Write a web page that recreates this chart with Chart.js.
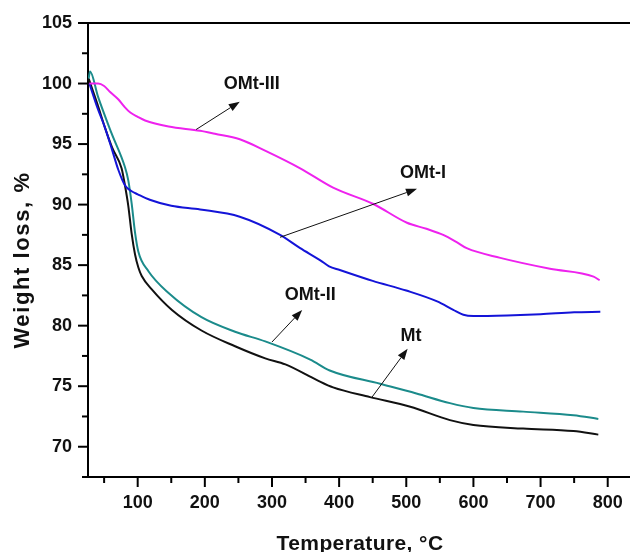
<!DOCTYPE html>
<html>
<head>
<meta charset="utf-8">
<script src="https://cdn.jsdelivr.net/npm/chart.js@4.4.1/dist/chart.umd.min.js"></script>
<style>
  html, body { margin: 0; padding: 0; overflow: hidden; background: #fff; }
  #wrap { width: 660px; height: 552px; }
</style>
</head>
<body>
<div id="wrap"><canvas id="tga" width="660" height="552"></canvas></div>
<script>
// TGA curves (temperature in °C, weight in %)
const mtT = [27, 40, 51, 62, 76, 81, 86, 91, 96, 101, 106, 121, 151, 195, 245, 290, 320, 367, 391, 446, 506, 565, 600, 674, 749, 786];
const mtW = [100.4, 98.3, 96.4, 94.7, 93.0, 91.6, 89.9, 87.6, 85.9, 84.8, 84.1, 83.0, 81.3, 79.6, 78.3, 77.3, 76.8, 75.5, 74.9, 74.1, 73.3, 72.2, 71.8, 71.5, 71.3, 71.0];

const omt2T = [27, 29, 41, 61, 81, 86, 91, 96, 101, 116, 146, 195, 245, 290, 357, 386, 461, 515, 565, 600, 674, 749, 786];
const omt2W = [100.4, 101.0, 98.9, 95.9, 93.1, 92.0, 90.1, 87.7, 86.1, 84.5, 82.7, 80.7, 79.5, 78.7, 77.2, 76.3, 75.2, 74.4, 73.6, 73.2, 72.9, 72.6, 72.3];

const omt1T = [28, 40, 51, 62, 71, 81, 91, 100, 118, 150, 193, 252, 312, 342, 372, 385, 401, 450, 500, 546, 570, 585, 600, 650, 700, 750, 789];
const omt1W = [100.0, 98.0, 96.4, 94.5, 92.9, 91.6, 91.1, 90.85, 90.4, 89.9, 89.6, 89.0, 87.5, 86.4, 85.4, 84.9, 84.6, 83.7, 82.9, 82.0, 81.3, 80.9, 80.8, 80.85, 80.95, 81.1, 81.15];

const omt3T = [28, 41, 50, 59, 71, 80, 89, 100, 111, 146, 193, 215, 252, 292, 342, 391, 451, 501, 530, 555, 575, 590, 640, 714, 779, 788];
const omt3W = [100.0, 100.0, 99.8, 99.3, 98.7, 98.1, 97.6, 97.25, 96.95, 96.45, 96.1, 95.85, 95.4, 94.4, 93.0, 91.4, 90.05, 88.5, 88.0, 87.5, 86.9, 86.4, 85.6, 84.7, 84.05, 83.75];

// curve labels with arrows, in data coordinates
const noteText = ['OMt-III', 'OMt-I', 'OMt-II', 'Mt'];
const noteAt = [[270, 100.0], [525, 92.6], [357, 82.5], [507, 79.15]];
const arrowFrom = [[187, 96.2], [312, 87.3], [300, 78.65], [449, 74.1]];
const arrowTo = [[252, 98.5], [516, 91.3], [345, 81.3], [502, 78.1]];

const xTitle = 'Temperature, °C';
const yTitle = 'Weight loss, %';

const pts = (xs, ys) => xs.map((x, i) => ({ x, y: ys[i] }));

const FAMILY = '"Liberation Sans", Arial, sans-serif';
const boldFont = size => ({ family: FAMILY, weight: 'bold', size });

// frame top line, major/minor tick marks and axis titles
const framePlugin = {
  id: 'frame',
  afterDraw(chart) {
    const { ctx, chartArea } = chart;
    const xs = chart.scales.x, ys = chart.scales.y;
    ctx.save();
    ctx.strokeStyle = '#000';
    ctx.lineWidth = 2;
    ctx.beginPath();
    ctx.moveTo(chartArea.left - 1, chartArea.top);
    ctx.lineTo(chartArea.right, chartArea.top);
    ctx.stroke();

    xs.ticks.forEach(t => {
      const px = xs.getPixelForValue(t.value);
      const len = t.value % 100 === 0 ? 10 : 6;
      ctx.beginPath();
      ctx.moveTo(px, chartArea.bottom);
      ctx.lineTo(px, chartArea.bottom + len);
      ctx.stroke();
    });
    ys.ticks.forEach(t => {
      const py = ys.getPixelForValue(t.value);
      const len = t.value % 5 === 0 ? 10 : 6;
      ctx.beginPath();
      ctx.moveTo(chartArea.left, py);
      ctx.lineTo(chartArea.left - len, py);
      ctx.stroke();
    });

    // axis titles (drawn here to get the wide letter spacing of the original)
    ctx.fillStyle = '#111';
    ctx.textAlign = 'center';
    ctx.textBaseline = 'alphabetic';
    ctx.font = 'bold 21px ' + FAMILY;
    ctx.letterSpacing = '0.4px';
    ctx.fillText(xTitle, (chartArea.left + chartArea.right) / 2 - 8, chartArea.bottom + 73);

    ctx.font = 'bold 22px ' + FAMILY;
    ctx.letterSpacing = '1.6px';
    ctx.translate(chartArea.left - 59.5, (chartArea.top + chartArea.bottom) / 2 + 10);
    ctx.rotate(-Math.PI / 2);
    ctx.fillText(yTitle, 0, 0);
    ctx.restore();
  }
};

const notePlugin = {
  id: 'notes',
  afterDatasetsDraw(chart) {
    const { ctx } = chart;
    const xs = chart.scales.x, ys = chart.scales.y;
    ctx.save();
    ctx.strokeStyle = '#111';
    ctx.fillStyle = '#111';
    ctx.lineWidth = 1;
    arrowFrom.forEach((from, i) => {
      const x1 = xs.getPixelForValue(from[0]), y1 = ys.getPixelForValue(from[1]);
      const x2 = xs.getPixelForValue(arrowTo[i][0]), y2 = ys.getPixelForValue(arrowTo[i][1]);
      const ang = Math.atan2(y2 - y1, x2 - x1);
      const hl = 11, hw = 4;
      const bx = x2 - hl * Math.cos(ang), by = y2 - hl * Math.sin(ang);
      ctx.beginPath();
      ctx.moveTo(x1, y1);
      ctx.lineTo(bx, by);
      ctx.stroke();
      ctx.beginPath();
      ctx.moveTo(x2, y2);
      ctx.lineTo(bx + hw * Math.sin(ang), by - hw * Math.cos(ang));
      ctx.lineTo(bx - hw * Math.sin(ang), by + hw * Math.cos(ang));
      ctx.closePath();
      ctx.fill();
    });
    ctx.font = 'bold 18px ' + FAMILY;
    ctx.textAlign = 'center';
    ctx.textBaseline = 'middle';
    noteText.forEach((txt, i) => {
      ctx.fillText(txt, xs.getPixelForValue(noteAt[i][0]), ys.getPixelForValue(noteAt[i][1]));
    });
    ctx.restore();
  }
};

const line = (label, data, color) => ({
  label, data,
  borderColor: color,
  borderWidth: 2,
  pointRadius: 0,
  fill: false,
  cubicInterpolationMode: 'monotone'
});

new Chart(document.getElementById('tga'), {
  type: 'line',
  data: {
    datasets: [
      line('OMt-III', pts(omt3T, omt3W), '#ee22ee'),
      line('OMt-I', pts(omt1T, omt1W), '#1414d8'),
      line('OMt-II', pts(omt2T, omt2W), '#1b8b8b'),
      line('Mt', pts(mtT, mtW), '#111111')
    ]
  },
  options: {
    responsive: false,
    animation: false,
    layout: { padding: { top: 23, right: 12, left: 0, bottom: 0 } },
    plugins: { legend: { display: false }, tooltip: { enabled: false } },
    scales: {
      x: {
        type: 'linear',
        min: 26,
        max: 860,
        afterFit: s => { s.height = 75; },
        border: { color: '#000', width: 2 },
        grid: { drawOnChartArea: false, tickLength: 10, tickColor: 'rgba(0,0,0,0)' },
        ticks: {
          stepSize: 50,
          includeBounds: false,
          autoSkip: false,
          maxRotation: 0,
          padding: 5,
          color: '#111',
          font: boldFont(18),
          callback: v => (v % 100 === 0 ? v : '')
        },
        title: { display: false }
      },
      y: {
        min: 67.5,
        max: 105,
        afterFit: s => { s.width = 88; },
        border: { color: '#000', width: 2 },
        grid: { drawOnChartArea: false, tickLength: 10, tickColor: 'rgba(0,0,0,0)' },
        ticks: {
          stepSize: 2.5,
          includeBounds: false,
          autoSkip: false,
          padding: 6,
          color: '#111',
          font: boldFont(18),
          callback: v => (v % 5 === 0 ? v : '')
        },
        title: { display: false }
      }
    }
  },
  plugins: [framePlugin, notePlugin]
});
</script>
</body>
</html>
